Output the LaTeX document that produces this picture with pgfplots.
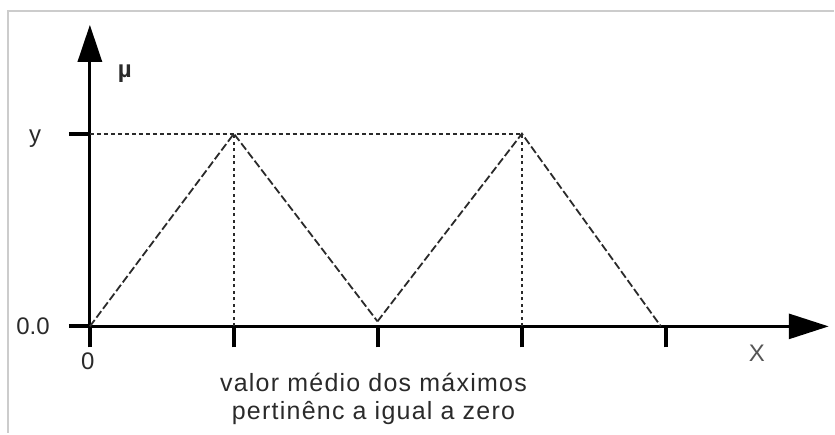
\documentclass[border=0pt]{standalone}
\usepackage{pgfplots}
\pgfplotsset{compat=1.18}
\usepackage{fontspec}
\setmainfont{Liberation Sans}
\usetikzlibrary{arrows.meta}
\definecolor{ink}{HTML}{2A2A2A}
\definecolor{frame}{HTML}{CCCCCC}
\begin{document}
\begin{tikzpicture}
\begin{axis}[
  scale only axis,
  width=740pt, height=302pt,
  xmin=0, xmax=5.13, ymin=0, ymax=1.565,
  axis x line=bottom, axis y line=left,
  axis line style={line width=3pt, black},
  x axis line style={-{Triangle[length=40pt,width=25pt]}},
  y axis line style={-{Triangle[length=37pt,width=24pt]}},
  xtick={0,1,2,3,4}, ytick={0,1},
  xticklabels={}, yticklabels={},
  tick align=outside,
  major tick length=21pt,
  tick style={line width=4pt, black},
  clip=false,
  font=\fontsize{24}{28}\selectfont,
]
% bounding region and the light frame around the figure
\path (axis cs:-0.624,-0.554) rectangle (axis cs:5.165,1.694);
\draw[frame, line width=2.5pt] (axis cs:5.165,1.637) -- (axis cs:-0.568,1.637) -- (axis cs:-0.568,-0.554);

% guide lines from the maxima
\addplot[ink, line width=2pt, dash pattern=on 4pt off 3pt] coordinates {(0,1) (3,1)};
\addplot[ink, line width=2pt, dash pattern=on 3pt off 3.5pt] coordinates {(1,0) (1,1)};
\addplot[ink, line width=2pt, dash pattern=on 3pt off 3.5pt] coordinates {(3,0) (3,1)};

% membership functions
\addplot[ink, line width=1.8pt, dash pattern=on 8pt off 3pt] coordinates {(0,0) (1,1) (1.997,0.026)};
\addplot[ink, line width=1.8pt, dash pattern=on 8pt off 3pt] coordinates {(1.997,0.026) (3,1) (3.965,0)};

% labels
\node[anchor=base, font=\fontsize{24}{28}\selectfont\bfseries, text=ink] at (axis cs:0.243,1.290) {µ};
\node[anchor=base, text=ink] at (axis cs:-0.381,0.953) {y};
\node[anchor=base, text=ink] at (axis cs:-0.395,-0.041) {0.0};
\node[anchor=base, text=ink] at (axis cs:-0.014,-0.223) {0};
\node[anchor=base, text=ink!80] at (axis cs:4.631,-0.181) {X};
\node[anchor=base, text=ink, font=\fontsize{25}{28}\selectfont\addfontfeatures{LetterSpace=5}] at (axis cs:1.969,-0.337) {valor médio dos máximos};
\node[anchor=base, text=ink, font=\fontsize{25}{28}\selectfont\addfontfeatures{LetterSpace=5}] at (axis cs:1.969,-0.482) {pertinênc a igual a zero};
\end{axis}
\end{tikzpicture}
\end{document}
